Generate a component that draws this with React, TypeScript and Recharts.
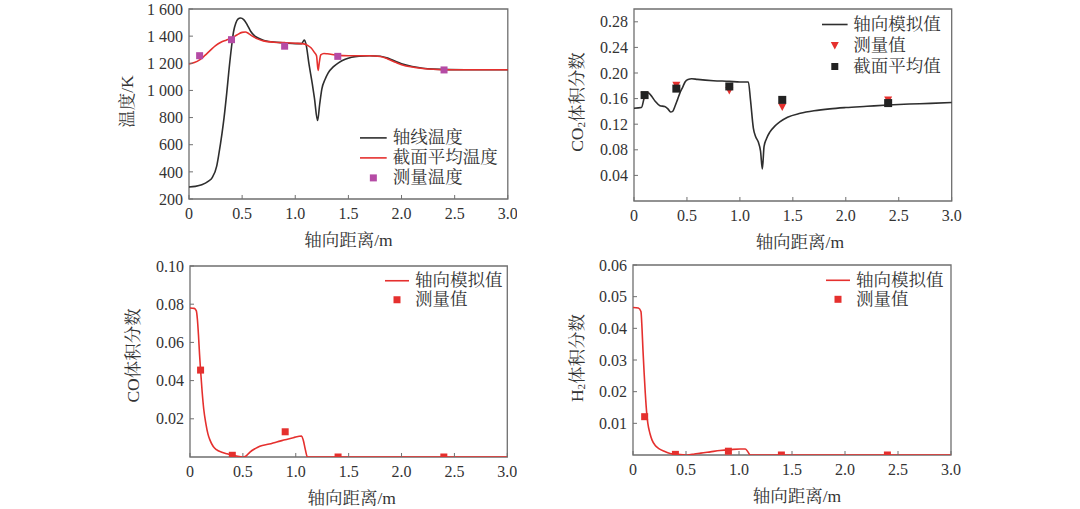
import React from "react";
import { ComposedChart, Line, Scatter, XAxis, YAxis, ReferenceArea } from "recharts";

// ---- shared axis ----
const xTicks = [0, 0.5, 1, 1.5, 2, 2.5, 3];

// ---- panel 1: temperature ----
const tempAxisX = [0, 0.06, 0.12, 0.18, 0.22, 0.26, 0.28, 0.31, 0.33, 0.355, 0.375, 0.4, 0.42, 0.44, 0.46, 0.485, 0.515, 0.55, 0.58, 0.62, 0.66, 0.75, 0.9, 1.0, 1.06, 1.085, 1.1, 1.13, 1.16, 1.18, 1.21, 1.23, 1.25, 1.28, 1.31, 1.36, 1.41, 1.47, 1.53, 1.6, 1.7, 1.8, 1.87, 1.93, 2.0, 2.1, 2.2, 2.3, 2.45, 2.7, 3.0];
const tempAxisY = [288, 293, 305, 330, 360, 440, 527, 680, 800, 980, 1141, 1320, 1436, 1495, 1525, 1534, 1522, 1480, 1436, 1400, 1383, 1360, 1350, 1345, 1345, 1372, 1345, 1190, 1050, 945, 778, 900, 1010, 1080, 1129, 1175, 1205, 1230, 1245, 1253, 1256, 1252, 1238, 1218, 1196, 1176, 1164, 1157, 1153, 1152, 1152];
const tempAvgX = [0, 0.05, 0.1, 0.15, 0.2, 0.25, 0.3, 0.35, 0.4, 0.45, 0.5, 0.53, 0.56, 0.6, 0.65, 0.7, 0.8, 0.9, 1.0, 1.08, 1.12, 1.15, 1.18, 1.2, 1.215, 1.225, 1.24, 1.27, 1.3, 1.4, 1.5, 1.6, 1.7, 1.8, 1.87, 1.95, 2.0, 2.1, 2.2, 2.3, 2.45, 2.7, 3.0];
const tempAvgY = [1195, 1205, 1225, 1258, 1295, 1330, 1355, 1370, 1385, 1408, 1428, 1430, 1420, 1398, 1378, 1365, 1355, 1352, 1348, 1343, 1330, 1313, 1280, 1255, 1148, 1200, 1262, 1272, 1270, 1258, 1255, 1255, 1256, 1250, 1232, 1205, 1190, 1172, 1162, 1156, 1152, 1152, 1152];
const tempMeasX = [0.1, 0.4, 0.9, 1.4, 2.4];
const tempMeasY = [1256, 1374, 1326, 1251, 1151];
const tempTicks = [200, 400, 600, 800, 1000, 1200, 1400, 1600];

// ---- panel 2: CO2 ----
const co2AxisX = [0, 0.07, 0.1, 0.135, 0.16, 0.2, 0.245, 0.29, 0.32, 0.346, 0.365, 0.387, 0.41, 0.434, 0.46, 0.482, 0.51, 0.545, 0.6, 0.75, 0.9, 1.0, 1.08, 1.1, 1.127, 1.15, 1.174, 1.195, 1.212, 1.228, 1.25, 1.284, 1.33, 1.38, 1.45, 1.57, 1.7, 1.85, 2.0, 2.2, 2.4, 2.6, 2.8, 3.0];
const co2AxisY = [0.145, 0.146, 0.163, 0.169, 0.165, 0.156, 0.149, 0.1475, 0.144, 0.139, 0.14, 0.148, 0.158, 0.169, 0.178, 0.186, 0.19, 0.191, 0.19, 0.188, 0.187, 0.186, 0.186, 0.158, 0.114, 0.1, 0.092, 0.078, 0.05, 0.085, 0.097, 0.108, 0.117, 0.124, 0.131, 0.137, 0.141, 0.144, 0.146, 0.148, 0.15, 0.1515, 0.1525, 0.154];
const co2MeasX = [0.1, 0.4, 0.9, 1.4, 2.4];
const co2MeasY = [0.165, 0.181, 0.1725, 0.1467, 0.158];
const co2AvgY = [0.1655, 0.1756, 0.179, 0.158, 0.153];
const co2Ticks = [0.04, 0.08, 0.12, 0.16, 0.2, 0.24, 0.28];

// ---- panel 3: CO ----
const coAxisX = [0, 0.04, 0.06, 0.07, 0.08, 0.09, 0.1, 0.115, 0.13, 0.15, 0.17, 0.19, 0.22, 0.25, 0.3, 0.35, 0.4, 0.44, 0.5, 0.53, 0.567, 0.62, 0.66, 0.75, 0.82, 0.9, 0.977, 1.055, 1.07, 1.09, 1.11, 1.2, 1.5, 2.0, 2.5, 3.0];
const coAxisY = [0.078, 0.0778, 0.0765, 0.072, 0.064, 0.054, 0.0454, 0.034, 0.025, 0.0175, 0.012, 0.0087, 0.0055, 0.0038, 0.0025, 0.0017, 0.001, 0.0005, 0, 0.0005, 0.0026, 0.0045, 0.0056, 0.0068, 0.0079, 0.009, 0.0101, 0.011, 0.009, 0.004, 0, 0, 0, 0, 0, 0];
const coMeasX = [0.1, 0.4, 0.9, 1.4, 2.4];
const coMeasY = [0.0455, 0.0009, 0.0132, 0, 0];
const coTicks = [0.02, 0.04, 0.06, 0.08, 0.1];

// ---- panel 4: H2 ----
const h2AxisX = [0, 0.05, 0.075, 0.085, 0.094, 0.105, 0.116, 0.13, 0.14, 0.16, 0.18, 0.21, 0.24, 0.3, 0.35, 0.42, 0.51, 0.58, 0.64, 0.73, 0.82, 0.92, 1.01, 1.06, 1.08, 1.107, 1.2, 1.6, 2.0, 2.5, 3.0];
const h2AxisY = [0.0466, 0.0464, 0.0453, 0.04, 0.0332, 0.026, 0.0195, 0.013, 0.01, 0.0068, 0.0047, 0.003, 0.0021, 0.0011, 0.0005, 0.0002, 0, 0.0003, 0.0006, 0.001, 0.0014, 0.0017, 0.0019, 0.0019, 0.0012, 0, 0, 0, 0, 0, 0];
const h2MeasX = [0.11, 0.4, 0.9, 1.4, 2.4];
const h2MeasY = [0.0121, 0.0002, 0.0012, 0, 0];
const h2Ticks = [0.01, 0.02, 0.03, 0.04, 0.05, 0.06];

const zip = (xs: number[], ys: number[]) => xs.map((x, i) => ({ x, y: ys[i] }));

const FONT = "'Liberation Serif', 'Noto Serif CJK SC', 'Noto Sans CJK SC', serif";
const TXT = "#333";
const FRAME = "#6f6f6f";
const RED = "#e5302e";
const BLACK = "#2e2e2e";
const MAGENTA = "#b54ba5";

const square = (color: string, s = 7) => (p: any) =>
  <rect x={p.cx - s / 2} y={p.cy - s / 2} width={s} height={s} fill={color} />;
const triDown = (color: string) => (p: any) =>
  <path d={`M${p.cx - 4},${p.cy - 3.5} L${p.cx + 4},${p.cy - 3.5} L${p.cx},${p.cy + 4} Z`} fill={color} />;

const fmtX = (v: number) => (v === 0 ? "0" : v.toFixed(1));

type Series = { kind: "line" | "scatter"; data: { x: number; y: number }[]; color: string; shape?: any };

function Panel(props: {
  left: number; top: number; w: number; h: number;
  domain: [number, number]; ticks: number[]; fmtY: (v: number) => string;
  series: Series[]; yTitle: React.ReactNode; yTitleOff: number; yTitleDy: number; xTitleDx: number;
  clip?: boolean;
}) {
  const { left, top, w, h } = props;
  return (
    <div style={{ position: "absolute", left: left - 80, top: top - 10 }}>
      <ComposedChart width={w + 90} height={h + 60} margin={{ top: 10, right: 10, left: 0, bottom: 0 }}>
        <XAxis
          type="number" dataKey="x" domain={[0, 3]} ticks={xTicks} tickFormatter={fmtX}
          height={50} axisLine={false} tickSize={-4} tickMargin={13}
          tickLine={{ stroke: FRAME }} tick={{ fill: TXT, fontSize: 16, fontFamily: FONT }}
          label={(lp: any) => {
            const vb = lp.viewBox;
            return (
              <text x={vb.x + vb.width / 2 + props.xTitleDx} y={vb.y + 41} textAnchor="middle" dominantBaseline="central"
                fill={TXT} fontSize={17.5} fontFamily={FONT}>轴向距离/m</text>
            );
          }}
        />
        <YAxis
          type="number" domain={props.domain} ticks={props.ticks} tickFormatter={props.fmtY}
          width={80} axisLine={false} tickSize={-4} tickMargin={10} allowDataOverflow={!!props.clip}
          tickLine={{ stroke: FRAME }} tick={{ fill: TXT, fontSize: 16, fontFamily: FONT }}
          label={(lp: any) => {
            const vb = lp.viewBox;
            const cx = vb.x + vb.width - props.yTitleOff;
            const cy = vb.y + vb.height / 2 + props.yTitleDy;
            return (
              <text x={cx} y={cy} transform={`rotate(-90 ${cx} ${cy})`} textAnchor="middle" dominantBaseline="central"
                fill={TXT} fontSize={17.5} fontFamily={FONT}>{props.yTitle}</text>
            );
          }}
        />
        <ReferenceArea x1={0} x2={3} y1={props.domain[0]} y2={props.domain[1]} fill="none" stroke={FRAME} strokeWidth={1.3} ifOverflow="visible" />
        {props.series.map((s, i) =>
          s.kind === "line" ? (
            <Line key={i} data={s.data} dataKey="y" type="monotone" stroke={s.color} strokeWidth={1.6}
              dot={false} activeDot={false} isAnimationActive={false} />
          ) : (
            <Scatter key={i} data={s.data} dataKey="y" fill={s.color} shape={s.shape} isAnimationActive={false} />
          )
        )}
      </ComposedChart>
    </div>
  );
}

type LegendRow = { label: string; marker: "line" | "square" | "tri"; color: string };

function LegendBox({ x, y, rowH, textX, rows }: { x: number; y: number; rowH: number; textX: number; rows: LegendRow[] }) {
  const mw = textX - x;
  return (
    <div style={{ position: "absolute", left: x, top: y - rowH / 2, fontFamily: FONT, fontSize: 17.5, color: TXT }}>
      {rows.map((r, i) => (
        <div key={i} style={{ display: "flex", alignItems: "center", height: rowH, whiteSpace: "nowrap" }}>
          <svg width={mw} height={rowH} style={{ display: "block" }}>
            {r.marker === "line" && <line x1={0} x2={mw - 6} y1={rowH / 2} y2={rowH / 2} stroke={r.color} strokeWidth={1.6} />}
            {r.marker === "square" && <rect x={(mw - 6) / 2 - 3.5} y={rowH / 2 - 3.5} width={7} height={7} fill={r.color} />}
            {r.marker === "tri" && (
              <path d={`M${(mw - 6) / 2 - 4},${rowH / 2 - 3.5} L${(mw - 6) / 2 + 4},${rowH / 2 - 3.5} L${(mw - 6) / 2},${rowH / 2 + 4} Z`} fill={r.color} />
            )}
          </svg>
          <span style={{ lineHeight: `${rowH}px` }}>{r.label}</span>
        </div>
      ))}
    </div>
  );
}

const fmtTemp = (v: number) => (v >= 1000 ? `1 ${String(v - 1000).padStart(3, "0")}` : String(v));

export default function App() {
  return (
    <div style={{ position: "absolute", left: 0, top: 0, width: 1080, height: 509, background: "#fff", overflow: "hidden" }}>
      <Panel
        left={188.5} top={9.3} w={318.8} h={190}
        domain={[200, 1600]} ticks={tempTicks} fmtY={fmtTemp}
        yTitle="温度/K" yTitleOff={62} yTitleDy={-2.5} xTitleDx={0}
        series={[
          { kind: "line", data: zip(tempAxisX, tempAxisY), color: BLACK },
          { kind: "line", data: zip(tempAvgX, tempAvgY), color: RED },
          { kind: "scatter", data: zip(tempMeasX, tempMeasY), color: MAGENTA, shape: square(MAGENTA) },
        ]}
      />
      <LegendBox x={360} y={138.3} rowH={19.8} textX={392.7} rows={[
        { label: "轴线温度", marker: "line", color: BLACK },
        { label: "截面平均温度", marker: "line", color: RED },
        { label: "测量温度", marker: "square", color: MAGENTA },
      ]} />

      <Panel
        left={634} top={8.5} w={317.7} h={192}
        domain={[0, 0.3]} ticks={co2Ticks} fmtY={(v) => v.toFixed(2)}
        yTitle={<><tspan>CO</tspan><tspan dy={4} fontSize={11}>2</tspan><tspan dy={-4}>体积分数</tspan></>}
        yTitleOff={57.3} yTitleDy={-3} xTitleDx={7}
        series={[
          { kind: "line", data: zip(co2AxisX, co2AxisY), color: BLACK },
          { kind: "scatter", data: zip(co2MeasX, co2MeasY), color: RED, shape: triDown(RED) },
          { kind: "scatter", data: zip(co2MeasX, co2AvgY), color: "#222", shape: square("#222", 8) },
        ]}
      />
      <LegendBox x={821.7} y={24} rowH={21} textX={853.3} rows={[
        { label: "轴向模拟值", marker: "line", color: BLACK },
        { label: "测量值", marker: "tri", color: RED },
        { label: "截面平均值", marker: "square", color: "#222" },
      ]} />

      <Panel
        left={190} top={265.7} w={317.3} h={191}
        domain={[0, 0.1]} ticks={coTicks} fmtY={(v) => v.toFixed(2)} clip
        yTitle="CO体积分数" yTitleOff={56.7} yTitleDy={-6} xTitleDx={3}
        series={[
          { kind: "line", data: zip(coAxisX, coAxisY), color: RED },
          { kind: "scatter", data: zip(coMeasX, coMeasY), color: RED, shape: square(RED) },
        ]}
      />
      <LegendBox x={385} y={280.7} rowH={19.5} textX={415} rows={[
        { label: "轴向模拟值", marker: "line", color: RED },
        { label: "测量值", marker: "square", color: RED },
      ]} />

      <Panel
        left={632.7} top={265} w={318} h={190}
        domain={[0, 0.06]} ticks={h2Ticks} fmtY={(v) => v.toFixed(2)} clip
        yTitle={<><tspan>H</tspan><tspan dy={4} fontSize={11}>2</tspan><tspan dy={-4}>体积分数</tspan></>}
        yTitleOff={56} yTitleDy={-2} xTitleDx={5}
        series={[
          { kind: "line", data: zip(h2AxisX, h2AxisY), color: RED },
          { kind: "scatter", data: zip(h2MeasX, h2MeasY), color: RED, shape: square(RED) },
        ]}
      />
      <LegendBox x={826} y={280.7} rowH={18.6} textX={856} rows={[
        { label: "轴向模拟值", marker: "line", color: RED },
        { label: "测量值", marker: "square", color: RED },
      ]} />
    </div>
  );
}
